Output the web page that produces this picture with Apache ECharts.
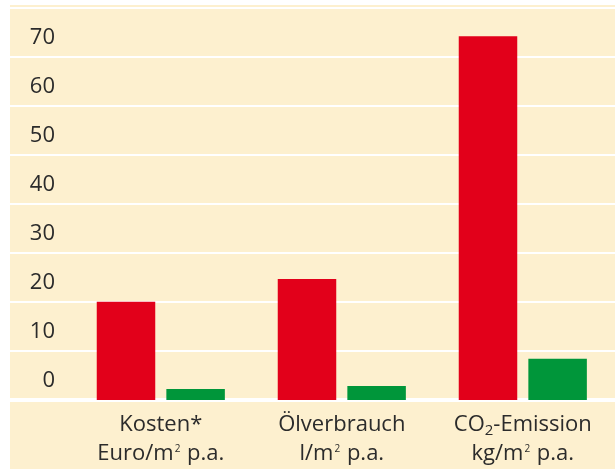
<!DOCTYPE html>
<html><head><meta charset="utf-8">
<script src="https://cdn.jsdelivr.net/npm/echarts@6/dist/echarts.min.js"></script>
<style>html,body{margin:0;padding:0;background:#fff}#c{width:615px;height:469px}</style>
</head><body><div id="c"></div>
<script>
const categories = ['Kosten*\nEuro/m² p.a.', 'Ölverbrauch\nl/m² p.a.', 'CO2-Emission\nkg/m² p.a.'];
const redValues = [19.8, 24.4, 73.4];
const greenValues = [2.2, 2.8, 8.3];
const yTicks = [0, 10, 20, 30, 40, 50, 60, 70];

const FONT = 'Open Sans';
const TEXT = '#2b2b2b';
const TOP = 3.44, BOTTOM = 69;
const chart = echarts.init(document.getElementById('c'), null, {renderer: 'canvas'});
const option = {
  animation: false,
  graphic: [{type: 'rect', z: -100, silent: true,
    shape: {x: 10, y: 5, width: 605, height: 464}, style: {fill: '#fdf0cf'}}],
  grid: [
    {left: 10, right: 0, top: TOP, bottom: BOTTOM},
    {left: 70.3, right: 1.7, top: TOP, bottom: BOTTOM}
  ],
  xAxis: [
    {gridIndex: 0, type: 'value', min: 0, max: 1,
      axisLine: {show: true, lineStyle: {color: '#ffffff', width: 4}},
      axisTick: {show: false}, axisLabel: {show: false}, splitLine: {show: false}},
    {gridIndex: 1, type: 'category', data: categories,
      axisLine: {show: false}, axisTick: {show: false}, splitLine: {show: false},
      axisLabel: {interval: 0, margin: 10, fontSize: 22, lineHeight: 29, color: TEXT, fontFamily: FONT,
        formatter: v => v.replace('CO2', 'CO{sub|2}').replace('²', '{sup|2}'),
        rich: {
          sub: {fontSize: 15, lineHeight: 29, padding: [12, 0, 0, 0], color: TEXT, fontFamily: FONT},
          sup: {fontSize: 10, lineHeight: 29, padding: [0, 1, 8, 1], color: TEXT, fontFamily: FONT}
        }}}
  ],
  yAxis: [
    {gridIndex: 0, type: 'value', min: 0, max: 80, interval: 10,
      axisLine: {show: false}, axisTick: {show: false},
      splitLine: {show: true, lineStyle: {color: '#ffffff', width: 2}},
      axisLabel: {inside: true, margin: 45, align: 'right', verticalAlign: 'bottom',
        fontSize: 22, lineHeight: 22, padding: [0, 0, 8, 0], color: TEXT, fontFamily: FONT,
        formatter: v => yTicks.includes(v) ? String(v) : ''}},
    {gridIndex: 1, type: 'value', min: 0, max: 80, interval: 10, show: false, splitLine: {show: false}}
  ],
  series: [
    {type: 'bar', xAxisIndex: 1, yAxisIndex: 1, data: redValues, barWidth: 58.5, barGap: '19%',
      itemStyle: {color: '#e2001a'}},
    {type: 'bar', xAxisIndex: 1, yAxisIndex: 1, data: greenValues, barWidth: 58.5, barGap: '19%',
      itemStyle: {color: '#00963a'}}
  ]
};
chart.setOption(option);
</script></body></html>
